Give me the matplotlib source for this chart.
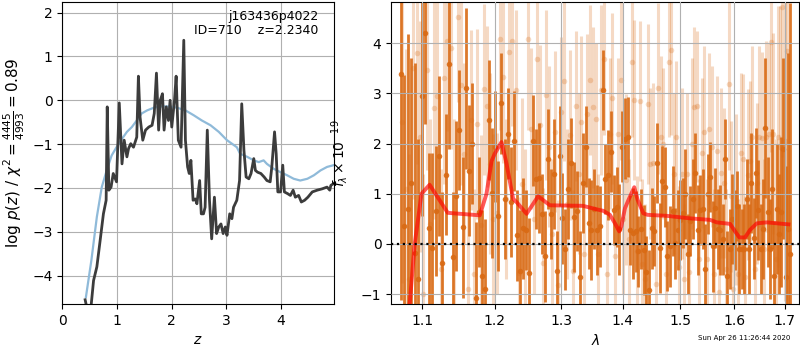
import numpy as np
import matplotlib
matplotlib.use('Agg')
import matplotlib.pyplot as plt
from matplotlib.ticker import NullLocator

# p(z) panel
z_pz = [0.416, 0.45, 0.52, 0.57, 0.63, 0.69, 0.75, 0.80, 0.82, 0.85,
        0.89, 0.93, 0.99, 1.04, 1.09, 1.13, 1.18, 1.21, 1.25, 1.30,
        1.36, 1.39, 1.42, 1.47, 1.52, 1.58, 1.64, 1.68, 1.72, 1.76,
        1.79, 1.83, 1.86, 1.90, 1.94, 1.97, 2.00, 2.05, 2.08, 2.12,
        2.17, 2.22, 2.25, 2.29, 2.32, 2.35, 2.39, 2.43, 2.46, 2.51,
        2.54, 2.58, 2.61, 2.65, 2.69, 2.73, 2.78, 2.82, 2.86, 2.90,
        2.94, 2.98, 3.01, 3.06, 3.10, 3.13, 3.19, 3.24, 3.28, 3.32,
        3.36, 3.41, 3.45, 3.50, 3.53, 3.57, 3.63, 3.69, 3.74, 3.80,
        3.83, 3.88, 3.91, 3.94, 3.99, 4.03, 4.06, 4.12, 4.17, 4.22,
        4.26, 4.32, 4.37, 4.43, 4.49, 4.57, 4.66, 4.75, 4.84, 4.89,
        4.91, 4.96]
logp = [-4.55, -4.75, -4.75, -4.11, -3.80, -3.20, -2.59, -2.28, -0.15, -2.05,
        -1.98, -1.67, -1.86, -0.06, -1.45, -0.91, -1.29, -1.10, -0.99, -1.07,
        -0.84, 0.55, -0.38, -0.91, -0.68, -0.61, -0.57, -0.30, 0.62, -0.68,
        0.0, 0.15, -0.68, -0.15, -0.46, 0.0, -0.61, 0.0, 0.55, -0.91,
        -1.07, 1.37, -0.91, -1.52, -1.67, -1.37, -2.28, -2.25, -2.36, -1.83,
        -2.59, -2.59, -2.44, -0.68, -2.28, -3.16, -2.21, -3.04, -2.89, -2.82,
        -3.04, -2.89, -3.08, -2.59, -2.70, -2.44, -2.28, -1.83, -0.08, -1.14,
        -1.75, -1.79, -1.67, -1.33, -1.60, -1.64, -1.67, -1.75, -1.83, -1.86,
        -1.52, -0.72, -1.22, -2.09, -2.09, -1.48, -2.09, -2.13, -2.17, -2.05,
        -2.21, -2.17, -2.32, -2.28, -2.21, -2.09, -2.05, -2.02, -1.98, -2.05,
        -1.94, -1.90]

z_prior = [0.43, 0.53, 0.63, 0.72, 0.81, 0.90, 0.99, 1.09, 1.18, 1.27,
           1.36, 1.45, 1.55, 1.67, 1.79, 1.94, 2.10, 2.25, 2.40, 2.55,
           2.71, 2.86, 3.01, 3.10, 3.19, 3.25, 3.38, 3.50, 3.59, 3.68,
           3.74, 3.86, 3.99, 4.11, 4.23, 4.35, 4.48, 4.60, 4.72, 4.84, 4.96]
logprior = [-4.49, -3.65, -2.66, -1.98, -1.60, -1.26, -1.07, -0.88, -0.72, -0.61,
            -0.46, -0.30, -0.23, -0.17, -0.14, -0.14, -0.17, -0.23, -0.34, -0.46,
            -0.57, -0.72, -0.91, -0.99, -1.07, -1.22, -1.29, -1.37, -1.41, -1.37,
            -1.45, -1.56, -1.64, -1.71, -1.79, -1.83, -1.79, -1.71, -1.60, -1.52, -1.48]

# spectrum panel
wave0_a, dwave = 1.072, 0.0046
flux_a = [3.39, 0.36, 0.69, 1.21, -0.19, -0.70, 2.95, 4.20, 0.31, -0.09,
          0.66, 1.75, -0.37, 1.38, 3.59, -0.27, 0.96, 2.27, 0.33, 3.10,
          1.46, 2.00, -1.07, 0.64, -0.63, -0.90, 2.47, 1.02, 1.94, 0.56,
          2.80, 0.90, 2.20, 0.84, 2.05, 0.17, -0.53, 0.31, 0.28, -0.58,
          2.06, 1.30, 1.31, 0.59, -0.25, 1.69, 0.60, 1.40, -0.54, 1.75,
          0.51, -0.11, 1.09, 1.61, 0.54, 0.66, -0.65, 1.22, 1.94, 0.41,
          0.28, 0.70, 0.28, 0.35, 3.07, 1.29, 1.38, 1.84, 0.68, 0.74,
          0.29, 1.94, 2.10, 2.13, 0.28, 0.21, 0.25, -0.15, 0.30, -0.12,
          -0.55, -0.92, 0.31, 0.26, 1.62, -0.08, 1.25, 1.14, -0.24, -0.05,
          0.66, 0.01, 0.28, 0.48, 0.61, 1.00, -0.20, 0.45, 0.90, 1.41,
          0.28, 0.68, 0.70, -0.50, 1.00, 1.34, -0.05, 0.71, 0.30, 0.28,
          0.09, 1.69, -0.64, -0.10, 0.50, 0.28, 0.76, -0.10, -0.10, -0.10,
          0.90, -0.10, 1.22, 0.11, 1.41, 0.68, -0.10, 0.30, 2.31, 0.64,
          -0.10, 1.10, -0.64, 0.70, 0.20, 0.64, 1.90, -0.65, 0.30, -0.20]
err_a = [4.5, 3.0, 3.5, 2.5, 3.8, 2.8, 2.4, 1.8, 1.5, 1.9,
         1.3, 1.6, 1.4, 1.2, 1.7, 1.3, 1.5, 1.2, 1.4, 1.6,
         1.3, 1.2, 1.5, 1.1, 1.3, 1.4, 1.2, 1.3, 1.1, 1.1,
         1.0, 1.2, 0.9, 1.1, 1.0, 0.9, 1.2, 1.0, 0.8, 1.1,
         0.9, 1.0, 1.1, 0.8, 0.9, 1.0, 0.9, 1.1, 0.8, 1.0,
         0.9, 0.8, 1.0, 0.9, 1.1, 0.8, 0.9, 1.0, 0.8, 0.9,
         1.0, 0.8, 0.9, 0.8, 0.8, 0.7, 0.9, 0.8, 0.7, 0.8,
         0.9, 0.7, 0.8, 0.8, 0.7, 0.9, 0.8, 0.7, 0.8, 0.9,
         0.7, 0.8, 0.8, 0.7, 0.8, 0.9, 0.7, 0.8, 0.7, 0.8,
         0.9, 0.7, 0.8, 0.8, 0.7, 0.9, 0.8, 0.7, 0.8, 0.8,
         0.9, 0.7, 0.8, 0.9, 0.8, 0.7, 0.9, 0.8, 0.8, 0.9,
         0.7, 0.8, 0.9, 0.8, 0.9, 0.8, 0.7, 0.9, 0.8, 0.9,
         0.8, 0.9, 1.0, 0.8, 0.9, 1.0, 0.9, 1.0, 1.4, 1.1,
         1.0, 1.2, 1.1, 1.3, 1.2, 1.5, 1.8, 2.2, 3.5, 5.0]

wave0_b = 1.0743
flux_b = [2.43, 1.09, -0.70, 3.50, 3.80, 2.14, -1.00, 3.47, 0.40, 2.70,
          2.94, -0.50, 3.30, 4.05, 3.90, 0.60, 4.53, 3.17, 1.80, -0.90,
          2.47, -0.60, 2.39, 0.38, 3.08, 2.74, 1.60, 0.50, 0.61, 4.08,
          3.32, 0.90, 3.83, 4.05, 3.07, -0.57, 1.20, 0.30, 4.08, 2.30,
          0.50, 3.68, 2.37, -0.38, 2.97, 1.94, 0.20, 2.24, -0.82, 2.62,
          3.25, 0.80, 2.17, -0.53, 2.75, 1.40, 2.44, -0.20, 2.59, 3.27,
          2.72, 2.50, -0.20, 3.07, 3.68, -0.60, 2.20, 2.90, -0.25, 2.20,
          3.27, 0.50, 1.28, 0.10, 3.63, 2.87, -0.15, 2.85, -0.40, -0.70,
          2.79, 1.60, 1.61, -0.80, 3.10, 2.14, 2.00, -0.60, 3.63, 3.87,
          1.40, 2.14, -0.45, 1.40, -0.70, 1.40, -0.55, 2.00, 2.72, 2.74,
          -0.30, 1.81, 2.24, -0.30, 2.30, 1.94, -0.60, 1.85, -0.95, 1.41,
          1.21, -0.50, 3.18, 0.95, -0.90, 0.88, -0.60, 1.81, 1.69, -0.65,
          1.38, 1.65, 2.14, -0.50, 1.21, 2.14, 2.12, -0.10, 2.14, 2.20,
          4.03, 2.20, -0.30, 2.14, 1.94, 4.73, 2.06, 3.85]
err_b = [3.2, 2.8, 2.5, 2.6, 2.2, 2.3, 2.4, 2.0, 2.1, 2.2,
         1.9, 2.0, 2.1, 1.8, 2.0, 1.9, 1.7, 2.0, 1.8, 1.9,
         1.8, 1.7, 1.9, 1.8, 1.7, 1.6, 1.8, 1.7, 1.6, 1.8,
         1.7, 1.6, 1.8, 1.7, 1.6, 1.5, 1.7, 1.6, 1.8, 1.6,
         1.5, 1.7, 1.6, 1.5, 1.7, 1.6, 1.5, 1.6, 1.7, 1.5,
         1.6, 1.5, 1.7, 1.6, 1.5, 1.6, 1.7, 1.5, 1.6, 1.5,
         1.6, 1.5, 1.6, 1.7, 1.5, 1.6, 1.5, 1.7, 1.6, 1.5,
         1.6, 1.5, 1.7, 1.6, 1.5, 1.6, 1.5, 1.6, 1.7, 1.5,
         1.6, 1.5, 1.6, 1.5, 1.7, 1.6, 1.5, 1.6, 1.5, 1.7,
         1.6, 1.5, 1.6, 1.7, 1.5, 1.6, 1.5, 1.7, 1.6, 1.5,
         1.6, 1.5, 1.7, 1.6, 1.5, 1.6, 1.7, 1.5, 1.6, 1.7,
         1.5, 1.6, 1.7, 1.5, 1.6, 1.7, 1.5, 1.6, 1.7, 1.6,
         1.7, 1.6, 1.8, 1.7, 1.6, 1.8, 1.7, 1.8, 1.9, 1.8,
         2.2, 2.0, 2.4, 2.6, 2.8, 3.0, 3.2, 3.5]

wave_model = [1.078, 1.0838, 1.0903, 1.0993, 1.110, 1.1345, 1.179, 1.1885, 1.1957, 1.2004,
              1.2101, 1.2174, 1.2271, 1.2331, 1.2471, 1.2645, 1.2825, 1.3343, 1.3565, 1.3673,
              1.3783, 1.3867, 1.3939, 1.3973, 1.4034, 1.4095, 1.4192, 1.4249, 1.4348, 1.4420,
              1.4756, 1.5175, 1.5544, 1.567, 1.5922, 1.6018, 1.6101, 1.6211, 1.6309, 1.6441,
              1.6640, 1.7078]
flux_model = [-2.5, -1.2, 0.0, 1.0, 1.18, 0.62, 0.57, 1.0, 1.65, 1.8,
              2.03, 1.6, 0.9, 0.82, 0.6, 0.95, 0.77, 0.76, 0.69, 0.66,
              0.58, 0.41, 0.25, 0.35, 0.71, 0.88, 1.13, 0.88, 0.61, 0.58,
              0.56, 0.51, 0.48, 0.43, 0.40, 0.25, 0.13, 0.13, 0.28, 0.41,
              0.43, 0.39]

wave_a = wave0_a + dwave * np.arange(len(flux_a))
wave_b = wave0_b + dwave * np.arange(len(flux_b))

fig = plt.figure(figsize=(8, 3.5), dpi=100)
ax1 = fig.add_axes([0.078, 0.131, 0.339, 0.863])
ax2 = fig.add_axes([0.489, 0.131, 0.510, 0.863])

# left: redshift probability
ax1.plot(z_prior, logprior, color='#8fbad9', lw=1.6)
ax1.plot(z_pz, logp, color='#3c3c3c', lw=2)
ax1.set_xlim(0, 4.96)
ax1.set_ylim(-4.65, 2.24)
ax1.set_xticks([0, 1, 2, 3, 4])
ax1.set_yticks([-4, -3, -2, -1, 0, 1, 2])
ax1.grid(True)
ax1.set_xlabel('$z$')
ax1.set_ylabel(r'log $p(z)$ / $\chi^2=\frac{4445}{4993}=0.89$', fontsize=11)
ax1.text(0.945, 0.975, 'j163436p4022\nID=710    z=2.2340', transform=ax1.transAxes,
         ha='right', va='top', fontsize=9, linespacing=1.1)

# right: spectrum
orange = '#d96a14'
ax2.errorbar(wave_b, flux_b, yerr=err_b, fmt='o', color=orange, alpha=0.25,
             ms=4, elinewidth=2.2, mec='none', zorder=1)
ax2.errorbar(wave_a, flux_a, yerr=err_a, fmt='o', color=orange, alpha=0.9,
             ms=4, elinewidth=2, mec='none', zorder=2)
ax2.plot(wave_model, flux_model, color='red', lw=2.8, alpha=0.65, zorder=3)
ax2.axhline(0, color='k', ls=':', lw=1.6, zorder=4)
ax2.set_xscale('log')
ax2.set_xlim(1.06, 1.73)
ax2.set_ylim(-1.2, 4.82)
lam_ticks = [1.1, 1.2, 1.3, 1.4, 1.5, 1.6, 1.7]
ax2.set_xticks(lam_ticks)
ax2.set_xticklabels(['%.1f' % t for t in lam_ticks])
ax2.xaxis.set_minor_locator(NullLocator())
ax2.set_yticks([-1, 0, 1, 2, 3, 4])
ax2.grid(True)
ax2.set_axisbelow(False)
ax2.set_xlabel(r'$\lambda$')
ax2.set_ylabel(r'$f_\lambda\times10^{-19}$')
ax2.yaxis.set_label_coords(-0.10, 0.5)

fig.text(0.988, 0.025, 'Sun Apr 26 11:26:44 2020', ha='right', va='bottom', fontsize=5)

fig.savefig('out.png', dpi=100)
